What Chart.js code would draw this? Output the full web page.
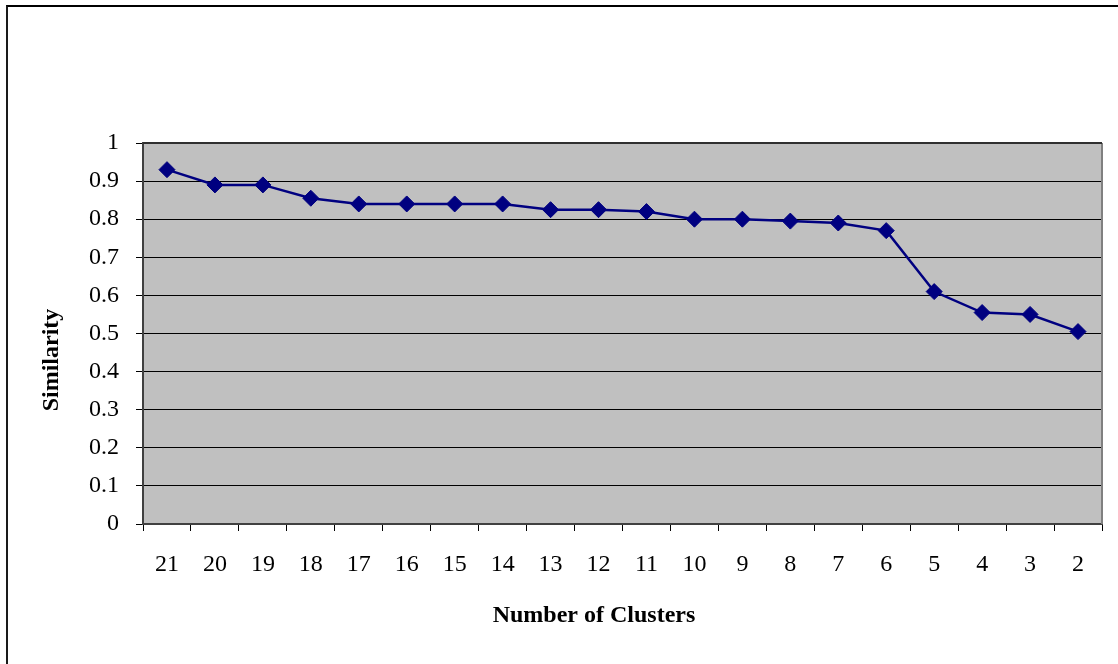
<!DOCTYPE html>
<html>
<head>
<meta charset="utf-8">
<script src="https://cdn.jsdelivr.net/npm/chart.js@4/dist/chart.umd.min.js"></script>
<style>
  html, body { margin: 0; padding: 0; background: #fff; }
  #wrap { position: relative; width: 1118px; height: 664px; overflow: hidden; }
  #frame { position: absolute; left: 6px; top: 5px; width: 1120px; height: 670px;
           border-top: 2px solid #000; border-left: 2px solid #1a1a1a; box-sizing: border-box; }
  canvas { position: absolute; left: 0; top: 0; }
</style>
</head>
<body>
<div id="wrap">
  <div id="frame"></div>
  <canvas id="c" width="1118" height="664"></canvas>
</div>
<script>
// Number of clusters, from the finest split down to two groups
const clusterCounts = ['21','20','19','18','17','16','15','14','13','12','11','10','9','8','7','6','5','4','3','2'];
// Similarity at each cut level
const similarity = [0.93, 0.89, 0.89, 0.855, 0.84, 0.84, 0.84, 0.84, 0.825, 0.825,
                    0.82, 0.80, 0.80, 0.795, 0.79, 0.77, 0.61, 0.555, 0.55, 0.505];
// Y axis tick labels
const yTickLabels = ['0','0.1','0.2','0.3','0.4','0.5','0.6','0.7','0.8','0.9','1'];

const xTitle = 'Number of Clusters';
const yTitle = 'Similarity';

const FONT = "'Liberation Serif', 'Times New Roman', serif";

// Grey plot background and right-hand frame edge
const plotFrame = {
  id: 'plotFrame',
  beforeDraw(chart) {
    const { ctx, chartArea: a } = chart;
    ctx.save();
    ctx.fillStyle = '#c0c0c0';
    ctx.fillRect(a.left, a.top, a.right - a.left, a.bottom - a.top);
    ctx.restore();
  },
  beforeDatasetsDraw(chart) {
    const { ctx, chartArea: a } = chart;
    ctx.save();
    ctx.strokeStyle = '#808080';
    ctx.lineWidth = 2;
    ctx.beginPath();
    ctx.moveTo(a.right, a.top);
    ctx.lineTo(a.right, a.bottom);
    ctx.stroke();
    ctx.strokeStyle = '#303030';
    ctx.beginPath();
    ctx.moveTo(a.left, a.top);
    ctx.lineTo(a.right, a.top);
    ctx.stroke();
    ctx.restore();
  }
};

// Axis titles
const axisTitles = {
  id: 'axisTitles',
  afterDraw(chart) {
    const { ctx } = chart;
    ctx.save();
    ctx.fillStyle = '#000';
    ctx.font = 'bold 24px ' + FONT;
    ctx.textAlign = 'center';
    ctx.textBaseline = 'alphabetic';
    ctx.fillText(xTitle, 594, 622);
    ctx.translate(58, 360);
    ctx.rotate(-Math.PI / 2);
    ctx.fillText(yTitle, 0, 0);
    ctx.restore();
  }
};

new Chart(document.getElementById('c'), {
  type: 'line',
  data: {
    labels: clusterCounts,
    datasets: [{
      data: similarity,
      borderColor: '#000080',
      backgroundColor: '#000080',
      borderWidth: 2.5,
      tension: 0,
      pointStyle: 'rectRot',
      pointRadius: 8,
      pointBorderWidth: 1,
      pointBackgroundColor: '#000080',
      pointBorderColor: '#000080'
    }]
  },
  options: {
    responsive: false,
    animation: false,
    devicePixelRatio: 1,
    layout: { padding: { top: 143, right: 16, left: 0, bottom: 0 } },
    plugins: { legend: { display: false }, tooltip: { enabled: false } },
    scales: {
      x: {
        type: 'category',
        offset: true,
        afterFit(s) { s.height = 140; },
        grid: { display: true, drawOnChartArea: false, drawTicks: true, tickLength: 7,
                offset: true, color: '#000', lineWidth: 1 },
        border: { display: true, color: '#404040', width: 2 },
        ticks: { color: '#000', padding: 19, maxRotation: 0, autoSkip: false,
                 font: { family: FONT, size: 24 } }
      },
      y: {
        min: 0,
        max: 1,
        afterFit(s) { s.width = 143; },
        afterBuildTicks(s) { s.ticks = yTickLabels.map(v => ({ value: parseFloat(v) })); },
        grid: { color: '#000', lineWidth: 1, drawTicks: true, tickLength: 7, tickColor: '#000' },
        border: { display: true, color: '#404040', width: 2 },
        ticks: {
          color: '#000', padding: 17,
          font: { family: FONT, size: 24 },
          callback: (v, i) => yTickLabels[i]
        }
      }
    }
  },
  plugins: [plotFrame, axisTitles]
});
</script>
</body>
</html>
